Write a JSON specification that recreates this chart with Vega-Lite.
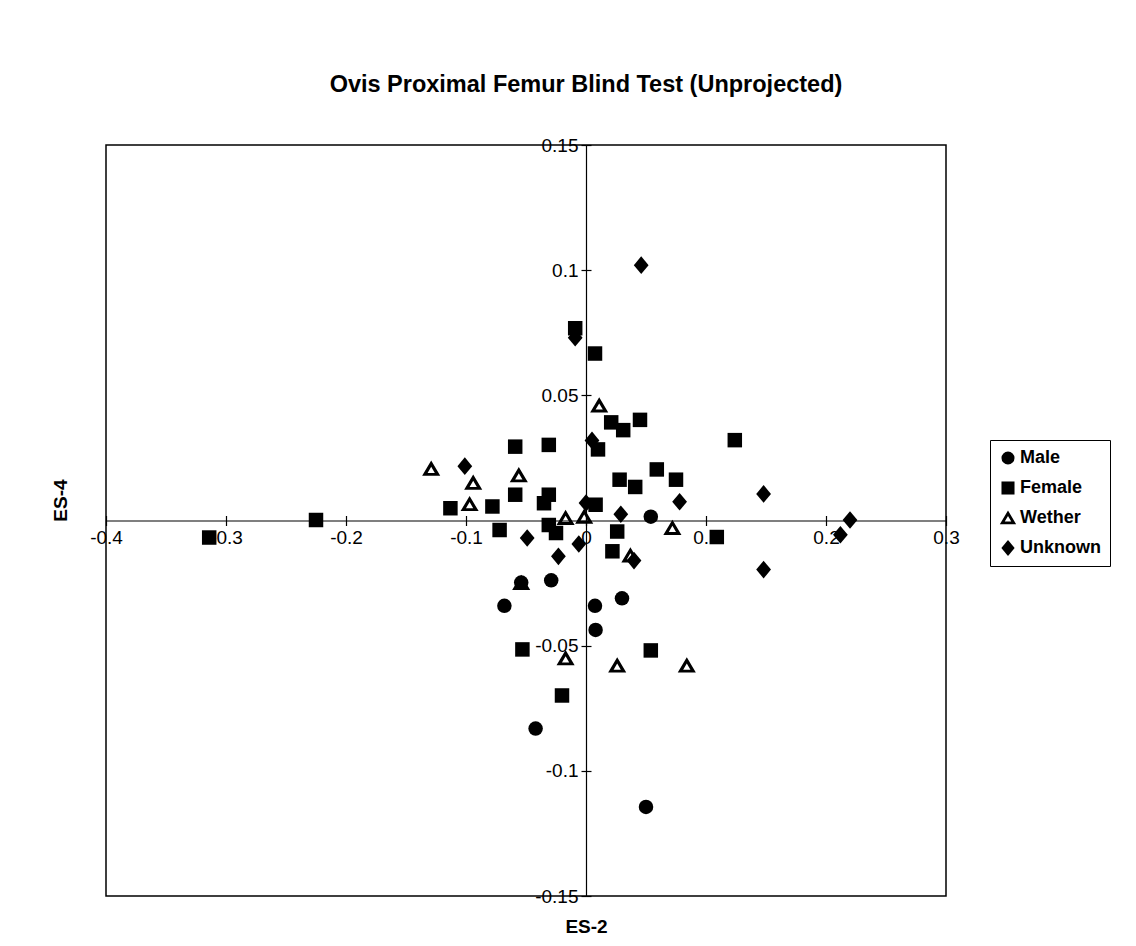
{
  "$schema": "https://vega.github.io/schema/vega-lite/v6.json",
  "autosize": "none",
  "width": 840,
  "height": 751,
  "padding": {"left": 106, "top": 145, "right": 190, "bottom": 50},
  "background": "white",
  "config": {
    "font": "Liberation Sans",
    "view": {"stroke": "black", "strokeWidth": 1.5},
    "axis": {"grid": false, "domainColor": "black", "tickColor": "black", "labelColor": "black", "titleColor": "black", "domainWidth": 1.2, "tickWidth": 1.2}
  },
  "title": {
    "text": "Ovis Proximal Femur Blind Test (Unprojected)",
    "fontSize": 23.5,
    "fontWeight": "bold",
    "font": "Liberation Sans",
    "anchor": "middle",
    "dx": 60,
    "offset": 40,
    "color": "black"
  },
  "data": {
    "values": [
      {"group": "Male", "es2": 0.054, "es4": 0.0015},
      {"group": "Male", "es2": -0.054, "es4": -0.0248},
      {"group": "Male", "es2": -0.029, "es4": -0.0239},
      {"group": "Male", "es2": -0.068, "es4": -0.0341},
      {"group": "Male", "es2": 0.0075, "es4": -0.0341},
      {"group": "Male", "es2": 0.030, "es4": -0.0311},
      {"group": "Male", "es2": 0.008, "es4": -0.0437},
      {"group": "Male", "es2": -0.042, "es4": -0.0831},
      {"group": "Male", "es2": 0.050, "es4": -0.1144},
      {"group": "Female", "es2": -0.009, "es4": 0.0768},
      {"group": "Female", "es2": 0.0075, "es4": 0.0667},
      {"group": "Female", "es2": 0.021, "es4": 0.0392},
      {"group": "Female", "es2": 0.031, "es4": 0.0361},
      {"group": "Female", "es2": 0.045, "es4": 0.0402},
      {"group": "Female", "es2": 0.124, "es4": 0.0321},
      {"group": "Female", "es2": 0.010, "es4": 0.0284},
      {"group": "Female", "es2": -0.059, "es4": 0.0295},
      {"group": "Female", "es2": -0.031, "es4": 0.0302},
      {"group": "Female", "es2": 0.028, "es4": 0.0163},
      {"group": "Female", "es2": 0.041, "es4": 0.0134},
      {"group": "Female", "es2": 0.059, "es4": 0.0204},
      {"group": "Female", "es2": 0.075, "es4": 0.0163},
      {"group": "Female", "es2": -0.059, "es4": 0.0103},
      {"group": "Female", "es2": -0.031, "es4": 0.0103},
      {"group": "Female", "es2": -0.035, "es4": 0.0069},
      {"group": "Female", "es2": -0.113, "es4": 0.0049},
      {"group": "Female", "es2": -0.078, "es4": 0.0056},
      {"group": "Female", "es2": -0.072, "es4": -0.0038},
      {"group": "Female", "es2": -0.031, "es4": -0.0018},
      {"group": "Female", "es2": -0.025, "es4": -0.005},
      {"group": "Female", "es2": 0.008, "es4": 0.0063},
      {"group": "Female", "es2": 0.026, "es4": -0.0044},
      {"group": "Female", "es2": 0.109, "es4": -0.0066},
      {"group": "Female", "es2": 0.022, "es4": -0.0123},
      {"group": "Female", "es2": -0.053, "es4": -0.0515},
      {"group": "Female", "es2": 0.054, "es4": -0.0519},
      {"group": "Female", "es2": -0.020, "es4": -0.0699},
      {"group": "Female", "es2": -0.225, "es4": 0.0002},
      {"group": "Female", "es2": -0.314, "es4": -0.0068},
      {"group": "Wether", "es2": 0.011, "es4": 0.0459},
      {"group": "Wether", "es2": -0.129, "es4": 0.0206},
      {"group": "Wether", "es2": -0.094, "es4": 0.015},
      {"group": "Wether", "es2": -0.056, "es4": 0.018},
      {"group": "Wether", "es2": -0.097, "es4": 0.0065},
      {"group": "Wether", "es2": -0.017, "es4": 0.001},
      {"group": "Wether", "es2": -0.0015, "es4": 0.0015},
      {"group": "Wether", "es2": 0.072, "es4": -0.003},
      {"group": "Wether", "es2": 0.037, "es4": -0.014},
      {"group": "Wether", "es2": -0.054, "es4": -0.025},
      {"group": "Wether", "es2": -0.017, "es4": -0.0551},
      {"group": "Wether", "es2": 0.026, "es4": -0.058},
      {"group": "Wether", "es2": 0.084, "es4": -0.058},
      {"group": "Unknown", "es2": 0.046, "es4": 0.102},
      {"group": "Unknown", "es2": -0.009, "es4": 0.073},
      {"group": "Unknown", "es2": 0.005, "es4": 0.032},
      {"group": "Unknown", "es2": -0.101, "es4": 0.0217},
      {"group": "Unknown", "es2": 0.148, "es4": 0.0106},
      {"group": "Unknown", "es2": 0.078, "es4": 0.0075},
      {"group": "Unknown", "es2": 0.0, "es4": 0.007},
      {"group": "Unknown", "es2": 0.029, "es4": 0.0025},
      {"group": "Unknown", "es2": -0.049, "es4": -0.007},
      {"group": "Unknown", "es2": -0.006, "es4": -0.0094},
      {"group": "Unknown", "es2": -0.023, "es4": -0.0143},
      {"group": "Unknown", "es2": 0.040, "es4": -0.016},
      {"group": "Unknown", "es2": 0.148, "es4": -0.0196},
      {"group": "Unknown", "es2": 0.220, "es4": 0.0002},
      {"group": "Unknown", "es2": 0.212, "es4": -0.0057}
    ]
  },
  "resolve": {"axis": {"x": "independent", "y": "independent"}},
  "layer": [
    {
      "mark": {"type": "point", "opacity": 0, "size": 1},
      "encoding": {
        "x": {
          "field": "es2", "type": "quantitative",
          "scale": {"domain": [-0.4, 0.3], "nice": false, "zero": false},
          "axis": {"orient": "bottom", "offset": -375.5, "title": null, "labels": false, "domain": false, "tickSize": -5,
                   "values": [-0.4, -0.3, -0.2, -0.1, 0, 0.1, 0.2, 0.3]}
        },
        "y": {
          "field": "es4", "type": "quantitative",
          "scale": {"domain": [-0.15, 0.15], "nice": false, "zero": false},
          "axis": {"orient": "left", "offset": -480, "title": null, "labels": false, "domain": false, "tickSize": -5,
                   "values": [-0.15, -0.1, -0.05, 0, 0.05, 0.1, 0.15]}
        }
      }
    },
    {
      "mark": {"type": "point", "filled": true, "color": "black", "opacity": 1, "size": 210},
      "encoding": {
        "x": {
          "field": "es2", "type": "quantitative",
          "scale": {"domain": [-0.4, 0.3], "nice": false, "zero": false},
          "axis": {
            "orient": "bottom",
            "title": "ES-2",
            "titleFontSize": 19, "titleFontWeight": "bold",
            "titleX": 480, "titleY": 412, "titleAnchor": null, "titleAlign": "center", "titleBaseline": "alphabetic",
            "offset": -375.5,
            "values": [-0.4, -0.3, -0.2, -0.1, 0, 0.1, 0.2, 0.3],
            "labelExpr": "toString(datum.value)",
            "labelFontSize": 19, "labelFlush": false, "labelOverlap": false,
            "tickSize": 5, "labelPadding": 3
          }
        },
        "y": {
          "field": "es4", "type": "quantitative",
          "scale": {"domain": [-0.15, 0.15], "nice": false, "zero": false},
          "axis": {
            "orient": "left",
            "title": "ES-4",
            "titleFontSize": 19, "titleFontWeight": "bold",
            "titleX": -520, "titleY": 355, "titleAnchor": null, "titleAlign": "center", "titleAngle": -90, "titleBaseline": "alphabetic",
            "offset": -480,
            "values": [-0.15, -0.1, -0.05, 0, 0.05, 0.1, 0.15],
            "labelExpr": "datum.value == 0 ? '' : toString(datum.value)",
            "labelFontSize": 19, "labelFlush": false, "labelOverlap": false,
            "tickSize": 5, "labelPadding": 3
          }
        },
        "shape": {
          "field": "group", "type": "nominal",
          "scale": {"domain": ["Male", "Female", "Wether", "Unknown"], "range": ["circle", "square", "M0,-1.15L1.25,0.95L-1.25,0.95ZM0,-0.3L-0.5,0.55L0.5,0.55Z", "M0,-1.22L1.02,0L0,1.22L-1.02,0Z"]},
          "legend": {
            "title": null, "orient": "none", "legendX": 884, "legendY": 295,
            "strokeColor": "black", "padding": 9, "labelFontSize": 18, "labelFontWeight": "bold", "labelColor": "black",
            "symbolSize": 170, "symbolFillColor": "black", "symbolStrokeWidth": 0, "rowPadding": 12, "labelOffset": 3
          }
        }
      }
    }
  ]
}
